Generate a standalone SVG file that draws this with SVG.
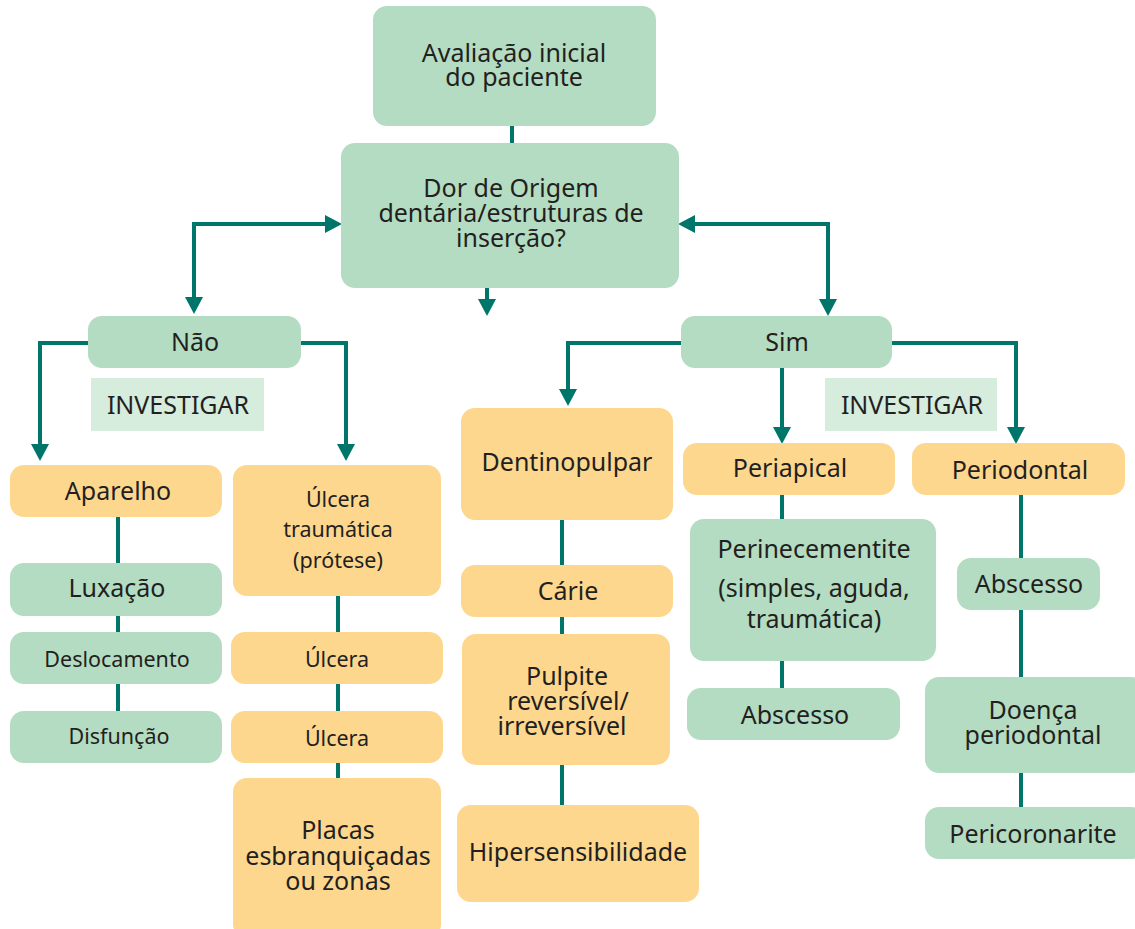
<svg xmlns="http://www.w3.org/2000/svg" width="1135" height="929" viewBox="0 0 1135 929">
<style>
.g{fill:#b3dcc2}
.o{fill:#fdd78e}
.l{fill:#d6ecdc}
text{font-family:"Noto Sans","Open Sans",sans-serif;fill:#231f20;text-anchor:middle;font-size:25px}
.s{font-size:21.5px}
.c{stroke:#00756a;stroke-width:4;fill:none}
</style>
<defs>
<marker id="ah" markerUnits="userSpaceOnUse" markerWidth="18" markerHeight="18" refX="8" refY="9" orient="auto-start-reverse" viewBox="0 0 18 18">
<path d="M0,0 L17,9 L0,18 z" fill="#00756a"/>
</marker>
</defs>
<g id="connectors">
<path class="c" d="M512,126 V143"/>
<path class="c" d="M194,305 V224 H333" marker-start="url(#ah)" marker-end="url(#ah)"/>
<path class="c" d="M687,224 H828 V307" marker-start="url(#ah)" marker-end="url(#ah)"/>
<path class="c" d="M487,288 V307" marker-end="url(#ah)"/>
<path class="c" d="M88,343 H40 V452" marker-end="url(#ah)"/>
<path class="c" d="M301,343 H346 V452" marker-end="url(#ah)"/>
<path class="c" d="M681,343 H568 V397" marker-end="url(#ah)"/>
<path class="c" d="M782,368 V435" marker-end="url(#ah)"/>
<path class="c" d="M892,343 H1016 V435" marker-end="url(#ah)"/>
<path class="c" d="M118,517 V711"/>
<path class="c" d="M338,596 V778"/>
<path class="c" d="M562,520 V805"/>
<path class="c" d="M782,495 V688"/>
<path class="c" d="M1021,495 V807"/>
</g>
<g id="n-avaliacao"><rect class="g" x="373" y="6" width="283" height="120" rx="14"/><text x="514" y="62">Avaliação inicial</text><text x="514" y="86">do paciente</text></g>
<g id="n-dor"><rect class="g" x="341" y="143" width="338" height="145" rx="14"/><text x="511" y="197">Dor de Origem</text><text x="511" y="222">dentária/estruturas de</text><text x="511" y="247">inserção?</text></g>
<g id="n-nao"><rect class="g" x="88" y="316" width="213" height="52" rx="14"/><text x="195" y="351">Não</text></g>
<g id="n-inv1"><rect class="l" x="91" y="378" width="173" height="53"/><text x="178" y="414">INVESTIGAR</text></g>
<g id="n-aparelho"><rect class="o" x="10" y="465" width="212" height="52" rx="14"/><text x="118" y="500">Aparelho</text></g>
<g id="n-luxacao"><rect class="g" x="10" y="563" width="212" height="53" rx="14"/><text x="117" y="597">Luxação</text></g>
<g id="n-deslocamento"><rect class="g" x="10" y="632" width="212" height="52" rx="14"/><text class="s" x="117" y="667">Deslocamento</text></g>
<g id="n-disfuncao"><rect class="g" x="10" y="711" width="212" height="52" rx="14"/><text class="s" x="119" y="744">Disfunção</text></g>
<g id="n-ulcera-t"><rect class="o" x="233" y="465" width="208" height="131" rx="14"/><text class="s" x="338" y="507">Úlcera</text><text class="s" x="338" y="537">traumática</text><text class="s" x="338" y="568">(prótese)</text></g>
<g id="n-ulcera1"><rect class="o" x="231" y="632" width="212" height="52" rx="14"/><text class="s" x="337" y="667">Úlcera</text></g>
<g id="n-ulcera2"><rect class="o" x="231" y="711" width="212" height="52" rx="14"/><text class="s" x="337" y="746">Úlcera</text></g>
<g id="n-placas"><rect class="o" x="233" y="778" width="208" height="160" rx="14"/><text x="338" y="839">Placas</text><text x="338" y="865">esbranquiçadas</text><text x="338" y="890">ou zonas</text></g>
<g id="n-sim"><rect class="g" x="681" y="316" width="211" height="52" rx="14"/><text x="787" y="351">Sim</text></g>
<g id="n-inv2"><rect class="l" x="825" y="378" width="172" height="53"/><text x="912" y="414">INVESTIGAR</text></g>
<g id="n-dentino"><rect class="o" x="461" y="408" width="212" height="112" rx="14"/><text x="567" y="471">Dentinopulpar</text></g>
<g id="n-carie"><rect class="o" x="461" y="565" width="212" height="52" rx="14"/><text x="568" y="600">Cárie</text></g>
<g id="n-pulpite"><rect class="o" x="462" y="634" width="208" height="131" rx="14"/><text x="567" y="685">Pulpite</text><text x="568" y="710">reversível/</text><text x="562" y="735">irreversível</text></g>
<g id="n-hiper"><rect class="o" x="457" y="805" width="242" height="97" rx="14"/><text x="578" y="861">Hipersensibilidade</text></g>
<g id="n-periapical"><rect class="o" x="683" y="443" width="212" height="52" rx="14"/><text x="790" y="477">Periapical</text></g>
<g id="n-perine"><rect class="g" x="690" y="519" width="246" height="142" rx="14"/><text x="814" y="558">Perinecementite</text><text x="814" y="597">(simples, aguda,</text><text x="814" y="628">traumática)</text></g>
<g id="n-abscesso1"><rect class="g" x="687" y="688" width="213" height="52" rx="14"/><text x="795" y="724">Abscesso</text></g>
<g id="n-periodontal"><rect class="o" x="912" y="443" width="213" height="52" rx="14"/><text x="1020" y="479">Periodontal</text></g>
<g id="n-abscesso2"><rect class="g" x="957" y="558" width="143" height="52" rx="14"/><text x="1029" y="593">Abscesso</text></g>
<g id="n-doenca"><rect class="g" x="925" y="677" width="220" height="96" rx="14"/><text x="1033" y="719">Doença</text><text x="1033" y="744">periodontal</text></g>
<g id="n-pericor"><rect class="g" x="925" y="807" width="220" height="52" rx="14"/><text x="1033" y="843">Pericoronarite</text></g>
</svg>
